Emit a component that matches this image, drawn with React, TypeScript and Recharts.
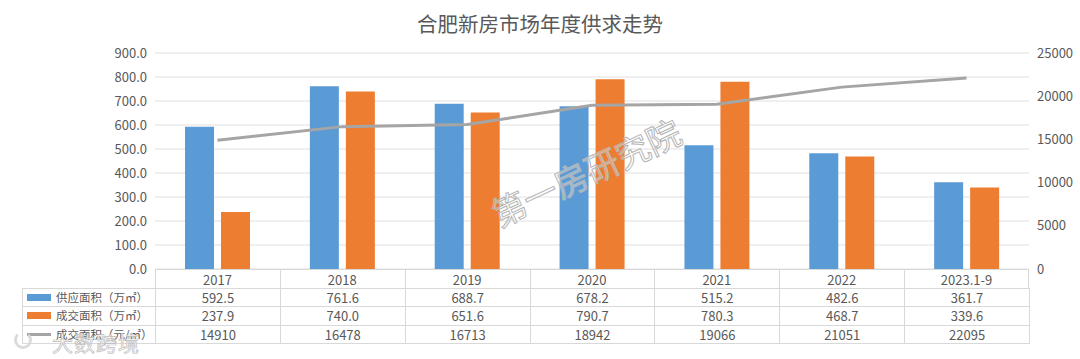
import { ComposedChart, Bar, Line, XAxis, YAxis, CartesianGrid } from 'recharts'

const years = ['2017', '2018', '2019', '2020', '2021', '2022', '2023.1-9']
const supply = [592.5, 761.6, 688.7, 678.2, 515.2, 482.6, 361.7]
const deals = [237.9, 740.0, 651.6, 790.7, 780.3, 468.7, 339.6]
const prices = [14910, 16478, 16713, 18942, 19066, 21051, 22095]
const leftTicks = [0, 100, 200, 300, 400, 500, 600, 700, 800, 900]
const rightTicks = [0, 5000, 10000, 15000, 20000, 25000]

const SUPPLY_NAME = '供应面积（万㎡）'
const DEALS_NAME = '成交面积（万㎡）'
const PRICE_NAME = '成交面积（元/㎡）'

const chartData = years.map((year, i) => ({
  year,
  supply: supply[i],
  deals: deals[i],
  price: prices[i],
}))

const FONT = '"Noto Sans CJK SC", "Noto Sans", sans-serif'
const TEXT = '#595959'
const BORDER = '#d9d9d9'

const rows = [
  { name: SUPPLY_NAME, color: '#5b9bd5', values: supply.map((v) => v.toFixed(1)), line: false },
  { name: DEALS_NAME, color: '#ed7d31', values: deals.map((v) => v.toFixed(1)), line: false },
  { name: PRICE_NAME, color: '#a5a5a5', values: prices.map(String), line: true },
]

const PLOT_LEFT = 155
const PLOT_RIGHT = 1029
const CELL = (PLOT_RIGHT - PLOT_LEFT) / years.length
const ROW_TOP = 288
const ROW_H = 18.4

function DataTable() {
  return (
    <>
      {/* year row borders */}
      {years.map((y, i) => (
        <div
          key={y}
          style={{
            position: 'absolute',
            left: PLOT_LEFT + CELL * i,
            top: 269,
            width: CELL,
            height: 19,
            boxSizing: 'border-box',
            borderLeft: `1px solid ${BORDER}`,
            borderRight: i === years.length - 1 ? `1px solid ${BORDER}` : undefined,
            borderTop: `1px solid ${BORDER}`,
          }}
        />
      ))}
      {rows.map((row, r) => (
        <div key={row.name}>
          <div
            style={{
              position: 'absolute',
              left: 22,
              top: ROW_TOP + ROW_H * r,
              width: PLOT_LEFT - 22,
              height: ROW_H + 1,
              boxSizing: 'border-box',
              border: `1px solid ${BORDER}`,
              borderRight: 'none',
              fontSize: 11.5,
              lineHeight: `${ROW_H - 1}px`,
              color: TEXT,
              whiteSpace: 'nowrap',
            }}
          >
            {row.line ? (
              <span style={{ position: 'absolute', left: 4, top: 7, width: 24, height: 3, background: row.color }} />
            ) : (
              <span style={{ position: 'absolute', left: 4, top: 5, width: 24, height: 7, background: row.color }} />
            )}
            <span style={{ position: 'absolute', left: 33, top: 0 }}>{row.name}</span>
          </div>
          {row.values.map((v, i) => (
            <div
              key={i}
              style={{
                position: 'absolute',
                left: PLOT_LEFT + CELL * i,
                top: ROW_TOP + ROW_H * r,
                width: CELL + 1,
                height: ROW_H + 1,
                boxSizing: 'border-box',
                border: `1px solid ${BORDER}`,
                fontSize: 13,
                lineHeight: `${ROW_H - 1}px`,
                textAlign: 'center',
                color: TEXT,
              }}
            >
              {v}
            </div>
          ))}
        </div>
      ))}
    </>
  )
}

export default function App() {
  return (
    <div
      style={{
        position: 'absolute',
        left: 0,
        top: 0,
        width: 1080,
        height: 359,
        overflow: 'hidden',
        background: '#fff',
        fontFamily: FONT,
      }}
    >
      <div
        style={{
          position: 'absolute',
          left: 0,
          top: 8,
          width: 1080,
          textAlign: 'center',
          fontSize: 20.5,
          lineHeight: '30px',
          color: TEXT,
        }}
      >
        合肥新房市场年度供求走势
      </div>
      <ComposedChart
        width={1080}
        height={359}
        data={chartData}
        barSize={29}
        barGap={7}
        margin={{ top: 53, left: 105, right: 1, bottom: 0 }}
      >
        <CartesianGrid vertical={false} stroke="#e0e0e0" yAxisId="left" />
        <XAxis
          dataKey="year"
          height={90}
          tickLine={false}
          axisLine={false}
          tick={{ fontSize: 13, fill: TEXT, dy: -1 }}
        />
        <YAxis
          yAxisId="left"
          width={50}
          domain={[0, 900]}
          ticks={leftTicks}
          tickFormatter={(v: number) => v.toFixed(1)}
          tickLine={false}
          axisLine={false}
          tick={{ fontSize: 13, fill: TEXT }}
        />
        <YAxis
          yAxisId="right"
          orientation="right"
          width={50}
          domain={[0, 25000]}
          ticks={rightTicks}
          tickLine={false}
          axisLine={false}
          tick={{ fontSize: 13, fill: TEXT }}
        />
        <Bar yAxisId="left" dataKey="supply" fill="#5b9bd5" isAnimationActive={false} />
        <Bar yAxisId="left" dataKey="deals" fill="#ed7d31" isAnimationActive={false} />
        <Line
          yAxisId="right"
          dataKey="price"
          type="linear"
          stroke="#a5a5a5"
          strokeWidth={3}
          dot={false}
          isAnimationActive={false}
        />
      </ComposedChart>
      <DataTable />
      {/* watermarks */}
      <div
        style={{
          position: 'absolute',
          left: 476,
          top: 150,
          width: 220,
          textAlign: 'center',
          fontSize: 34,
          lineHeight: '44px',
          color: 'rgba(255,255,255,0.35)',
          WebkitTextStroke: '1px #b5b5b5',
          transform: 'rotate(-25deg)',
          whiteSpace: 'nowrap',
        }}
      >
        第一房研究院
      </div>
      <div
        style={{
          position: 'absolute',
          left: 52,
          top: 329,
          fontSize: 21,
          lineHeight: '26px',
          letterSpacing: 1,
          color: 'rgba(255,255,255,0.8)',
          WebkitTextStroke: '0.7px #bdbdbd',
          whiteSpace: 'nowrap',
        }}
      >
        大数跨境
      </div>
      <div
        style={{
          position: 'absolute',
          left: 14,
          top: 331,
          width: 18,
          height: 18,
          borderRadius: '50%',
          border: '3px solid rgba(215,215,215,0.9)',
          borderTopColor: 'transparent',
          boxSizing: 'border-box',
        }}
      />
    </div>
  )
}
